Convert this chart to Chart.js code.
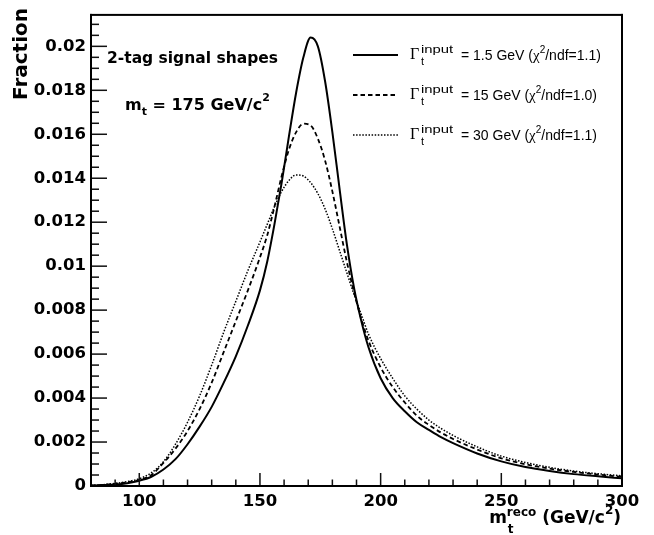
<!DOCTYPE html>
<html>
<head>
<meta charset="utf-8">
<script src="https://cdn.jsdelivr.net/npm/chart.js@4.4.0/dist/chart.umd.min.js"></script>
<style>
html,body{margin:0;padding:0;background:#fff;}
canvas{display:block;}
</style>
</head>
<body>
<canvas id="c" width="654" height="535"></canvas>
<script>
// ---- data ----
const massGeV = [80,85,90,95,100,105,110,115,120,125,130,135,140,145,150,
  153,156,159,162,165,168,171,174,177,180,183,186,189,192,195,
  200,205,210,215,220,225,230,240,250,260,270,280,290,300];

const fracWidth1p5 = [0.00002,0.00004,0.00007,0.00013,0.00024,0.00042,0.00075,0.00122,0.0019,0.0027,0.0036,0.0047,0.0059,0.0073,0.0089,
  0.0102,0.0119,0.0138,0.0159,0.0179,0.0195,0.0204,0.0200,0.0184,0.0161,0.0135,0.0110,0.0090,0.0075,0.0063,
  0.0049,0.0040,0.0034,0.0029,0.00255,0.00222,0.00195,0.00148,0.00112,0.00086,0.00068,0.00054,0.00044,0.00035];

const fracWidth15 = [0.00002,0.00005,0.0001,0.00017,0.00028,0.0005,0.00105,0.0017,0.0025,0.0035,0.0047,0.0061,0.0075,0.0089,0.0104,
  0.0114,0.0127,0.0141,0.0153,0.0161,0.01648,0.0164,0.0158,0.0148,0.0134,0.0118,0.0102,0.0088,0.0076,0.0066,
  0.0054,0.0045,0.0038,0.0032,0.00278,0.00243,0.00214,0.00166,0.00126,0.00099,0.00079,0.00064,0.00052,0.00042];

const fracWidth30 = [0.00003,0.00006,0.00012,0.0002,0.00033,0.0006,0.0011,0.0019,0.0029,0.0041,0.0055,0.0070,0.0084,0.0098,0.0111,
  0.0119,0.0127,0.0134,0.0139,0.01415,0.0141,0.0138,0.0133,0.0126,0.0117,0.0107,0.0097,0.0087,0.0078,0.0069,
  0.0058,0.0049,0.0041,0.0035,0.0030,0.00262,0.0023,0.00178,0.00136,0.00107,0.00085,0.00068,0.00056,0.00046];

const widthLabels = ['1.5 GeV', '15 GeV', '30 GeV'];
const chi2Labels = ['1.1', '1.0', '1.1'];

const xMin = 80, xMax = 300, xMajorStep = 50, xMinorStep = 10;
const yMin = 0, yMax = 0.02143, yMajorStep = 0.002, yMinorStep = 0.0005;

const BOLD = '"DejaVu Sans"';
const SANS = '"Liberation Sans"';
const SERIF = '"Liberation Serif"';

const toPoints = ys => massGeV.map((m, i) => ({x: m, y: ys[i]}));

// ---- frame + inward ticks (ROOT style) ----
const frameTicks = {
  id: 'frameTicks',
  afterDraw(chart) {
    const ctx = chart.ctx;
    const a = chart.chartArea;
    const xs = chart.scales.x, ys = chart.scales.y;
    ctx.save();
    ctx.setLineDash([]);
    ctx.globalAlpha = 1;
    ctx.fillStyle = '#111';
    const nx = Math.round((xMax - xMin) / xMinorStep);
    for (let i = 0; i <= nx; i++) {
      const v = xMin + i * xMinorStep;
      const px = xs.getPixelForValue(v);
      const major = Math.abs(v % xMajorStep) < 1e-6;
      const len = major ? 13 : 6.5;
      ctx.fillRect(px - 0.75, a.bottom - len, 1.5, len);
    }
    const ny = Math.floor((yMax - yMin) / yMinorStep + 1e-9);
    for (let i = 0; i <= ny; i++) {
      const v = yMin + i * yMinorStep;
      const py = ys.getPixelForValue(v);
      const major = i % 4 === 0;
      const len = major ? 16 : 8;
      ctx.fillRect(a.left, py - 0.75, len, 1.5);
    }
    ctx.fillStyle = '#000';
    ctx.fillRect(a.left - 1, a.top - 1, a.right - a.left + 2, 2);
    ctx.fillRect(a.left - 1, a.bottom - 1, a.right - a.left + 2, 2);
    ctx.fillRect(a.left - 1, a.top - 1, 2, a.bottom - a.top + 2);
    ctx.fillRect(a.right - 1, a.top - 1, 2, a.bottom - a.top + 2);
    ctx.restore();
  }
};

function drawParts(ctx, x, y, parts) {
  let cx = x;
  for (const p of parts) {
    ctx.font = p.font;
    ctx.fillText(p.t, cx, y + (p.dy || 0));
    cx += ctx.measureText(p.t).width;
  }
  return cx;
}

const texts = {
  id: 'texts',
  afterDraw(chart) {
    const ctx = chart.ctx;
    ctx.save();
    ctx.setLineDash([]);
    ctx.fillStyle = '#000';
    ctx.textBaseline = 'alphabetic';
    ctx.textAlign = 'left';

    // y-axis title
    ctx.save();
    ctx.translate(27, 8);
    ctx.rotate(-Math.PI / 2);
    ctx.textAlign = 'right';
    ctx.font = `bold 20px ${BOLD}`;
    ctx.fillText('Fraction', 0, 0);
    ctx.restore();

    // x-axis title: m_t^reco (GeV/c^2), right-aligned to the frame
    const fBig = `bold 17px ${BOLD}`, fSmall = `bold 12px ${BOLD}`;
    ctx.font = fBig;
    const wM = ctx.measureText('m').width;
    const wRest = ctx.measureText(' (GeV/c').width + ctx.measureText(')').width;
    ctx.font = fSmall;
    const wReco = ctx.measureText('reco').width;
    const w2 = ctx.measureText('2').width;
    let cx = 621 - (wM + wReco + wRest + w2);
    const by = 523;
    ctx.font = fBig; ctx.fillText('m', cx, by); cx += wM;
    ctx.font = fSmall; ctx.fillText('reco', cx, by - 7); ctx.fillText('t', cx + 1, by + 10); cx += wReco;
    ctx.font = fBig; ctx.fillText(' (GeV/c', cx, by); cx += ctx.measureText(' (GeV/c').width;
    ctx.font = fSmall; ctx.fillText('2', cx, by - 9); cx += w2;
    ctx.font = fBig; ctx.fillText(')', cx, by);

    // annotations
    ctx.font = `bold 15.5px ${BOLD}`;
    ctx.fillText('2-tag signal shapes', 107, 63);
    drawParts(ctx, 125, 110, [
      {t: 'm', font: `bold 16px ${BOLD}`},
      {t: 't', font: `bold 11px ${BOLD}`, dy: 5},
      {t: ' = 175 GeV/c', font: `bold 16px ${BOLD}`},
      {t: '2', font: `bold 11px ${BOLD}`, dy: -9}
    ]);

    // legend
    chart.data.datasets.forEach((ds, i) => {
      const rowY = 55 + 40 * i;
      ctx.save();
      ctx.strokeStyle = ds.borderColor;
      ctx.lineWidth = ds.borderWidth;
      ctx.setLineDash(ds.borderDash || []);
      ctx.beginPath();
      ctx.moveTo(353, rowY); ctx.lineTo(398, rowY);
      ctx.stroke();
      ctx.restore();

      ctx.font = `16px ${SERIF}`;
      ctx.fillText('\u0393', 410, rowY + 4);
      ctx.save();
      ctx.translate(421, rowY - 2.5);
      ctx.scale(1.35, 1);
      ctx.font = `11px ${SANS}`;
      ctx.fillText('input', 0, 0);
      ctx.restore();
      ctx.font = `11px ${SANS}`;
      ctx.fillText('t', 421, rowY + 10);
      drawParts(ctx, 461, rowY + 5, [
        {t: '= ' + widthLabels[i] + ' (', font: `14px ${SANS}`},
        {t: '\u03C7', font: `15px ${SERIF}`},
        {t: '2', font: `10px ${SANS}`, dy: -7},
        {t: '/ndf=' + chi2Labels[i] + ')', font: `14px ${SANS}`}
      ]);
    });
    ctx.restore();
  }
};

const tickFont = {family: 'DejaVu Sans', weight: 'bold', size: 16.5};

new Chart(document.getElementById('c'), {
  type: 'line',
  data: {
    datasets: [
      {label: widthLabels[0], data: toPoints(fracWidth1p5), borderColor: '#000', borderWidth: 2, borderDash: []},
      {label: widthLabels[1], data: toPoints(fracWidth15), borderColor: '#000', borderWidth: 1.8, borderDash: [4.5, 3]},
      {label: widthLabels[2], data: toPoints(fracWidth30), borderColor: '#000', borderWidth: 1.5, borderDash: [1.5, 1.6]}
    ].map(d => Object.assign(d, {pointRadius: 0, fill: false, cubicInterpolationMode: 'monotone'}))
  },
  options: {
    responsive: false,
    animation: false,
    devicePixelRatio: 1,
    layout: {padding: {top: 8, right: 32, bottom: 0, left: 0}},
    plugins: {legend: {display: false}, tooltip: {enabled: false}},
    scales: {
      x: {
        type: 'linear', min: xMin, max: xMax,
        grid: {display: false, drawTicks: false},
        border: {display: false},
        ticks: {stepSize: xMajorStep, includeBounds: false, autoSkip: false, maxRotation: 0,
          padding: 6, color: '#000', font: tickFont},
        afterFit(s) { s.height = 49; }
      },
      y: {
        type: 'linear', min: yMin, max: yMax,
        grid: {display: false, drawTicks: false},
        border: {display: false},
        ticks: {stepSize: yMajorStep, includeBounds: false, autoSkip: false,
          padding: 5, color: '#000', font: tickFont,
          callback: v => String(+v.toFixed(4))},
        afterFit(s) { s.width = 91; }
      }
    }
  },
  plugins: [frameTicks, texts]
});
</script>
</body>
</html>
